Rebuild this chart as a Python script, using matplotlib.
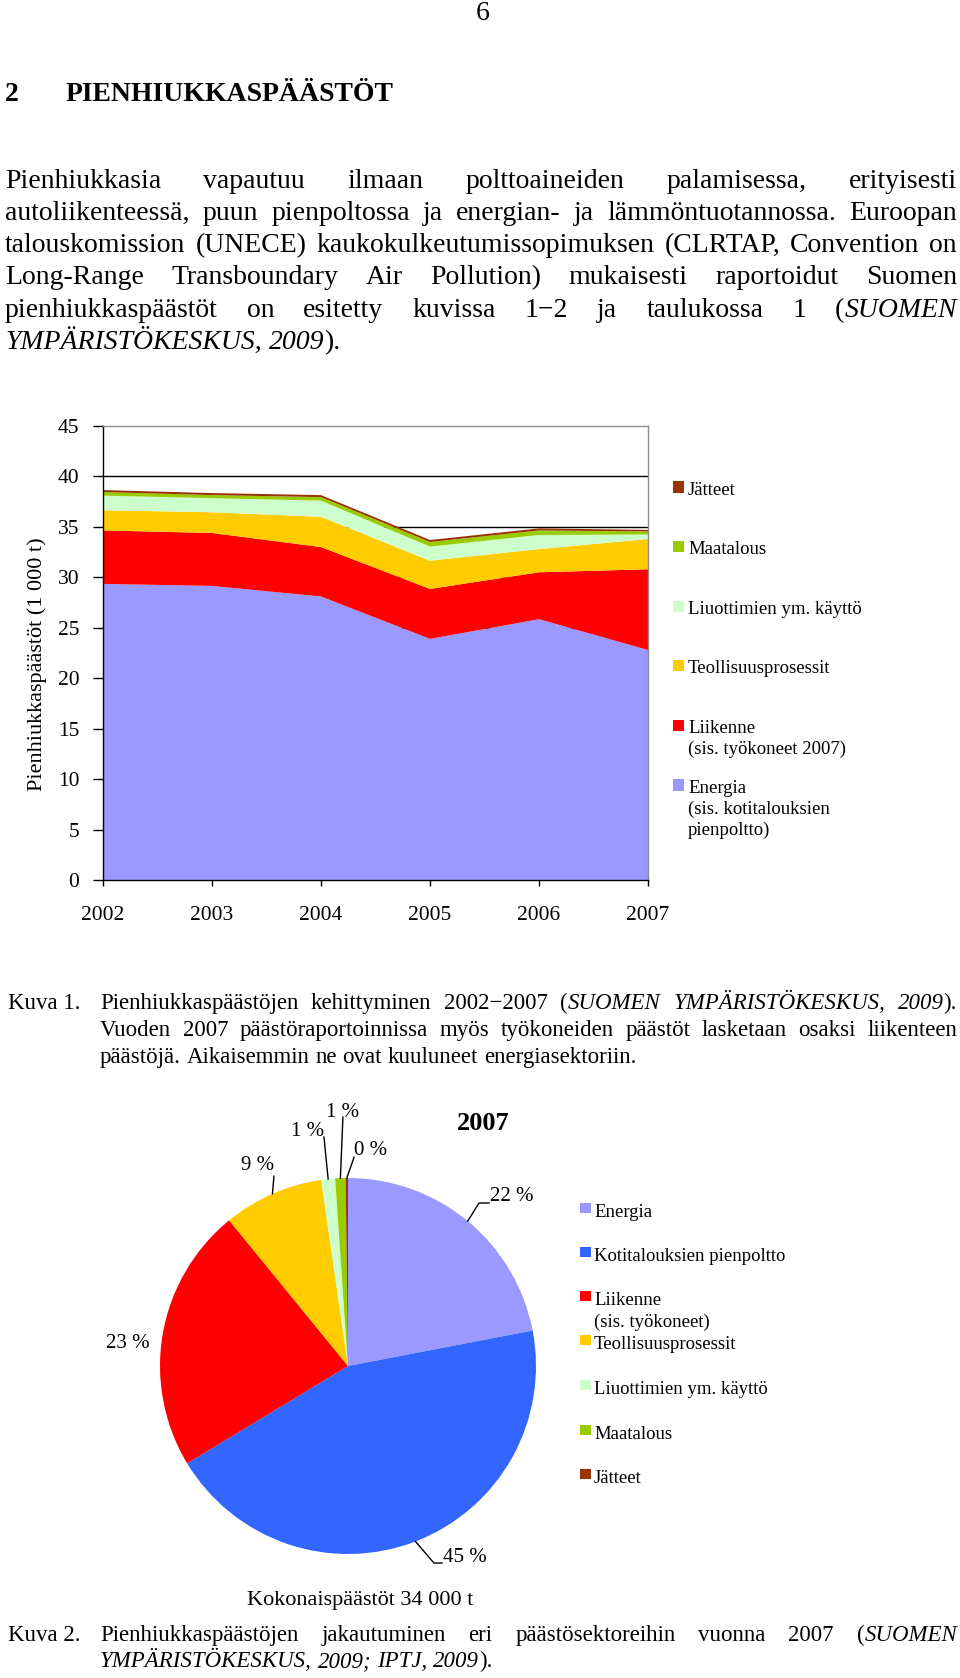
import matplotlib
matplotlib.use("Agg")
import matplotlib.pyplot as plt
from matplotlib.patches import Rectangle
import numpy as np

plt.rcParams['font.family'] = ['Liberation Serif', 'DejaVu Serif']

# ---------------- data ----------------
years = [2002, 2003, 2004, 2005, 2006, 2007]
energia = [29.35, 29.15, 28.1, 23.9, 25.85, 22.8]
liikenne = [5.3, 5.25, 4.9, 4.95, 4.65, 8.0]
teollisuus = [2.0, 2.05, 3.0, 2.8, 2.3, 3.0]
liuottimet = [1.45, 1.4, 1.6, 1.4, 1.4, 0.45]
maatalous = [0.35, 0.3, 0.35, 0.45, 0.45, 0.3]
jatteet = [0.2, 0.2, 0.2, 0.2, 0.2, 0.15]
area_colors = ['#9999FF', '#FF0000', '#FFCC00', '#CCFFCC', '#99CC00', '#993300']
area_legend = ["Energia\n(sis. kotitalouksien\npienpoltto)",
               "Liikenne\n(sis. työkoneet 2007)",
               "Teollisuusprosessit",
               "Liuottimien ym. käyttö",
               "Maatalous",
               "Jätteet"]

pie_labels = ["Energia", "Kotitalouksien pienpoltto", "Liikenne\n(sis. työkoneet)",
              "Teollisuusprosessit", "Liuottimien ym. käyttö", "Maatalous", "Jätteet"]
pie_values = [22.2, 44.8, 23.0, 8.7, 1.2, 0.9, 0.2]
pie_colors = ['#9999FF', '#3366FF', '#FF0000', '#FFCC00', '#CCFFCC', '#99CC00', '#993300']

body_lines = [
    ("Pienhiukkasia vapautuu ilmaan polttoaineiden palamisessa, erityisesti", True),
    ("autoliikenteessä, puun pienpoltossa ja energian- ja lämmöntuotannossa. Euroopan", True),
    ("talouskomission (UNECE) kaukokulkeutumissopimuksen (CLRTAP, Convention on", True),
    ("Long-Range Transboundary Air Pollution) mukaisesti raportoidut Suomen", True),
    ("pienhiukkaspäästöt on esitetty kuvissa 1−2 ja taulukossa 1 (*SUOMEN*", True),
    ("*YMPÄRISTÖKESKUS, 2009*).", False),
]
caption1 = [
    ("Pienhiukkaspäästöjen kehittyminen 2002−2007 (*SUOMEN YMPÄRISTÖKESKUS, 2009*).", True),
    ("Vuoden 2007 päästöraportoinnissa myös työkoneiden päästöt lasketaan osaksi liikenteen", True),
    ("päästöjä. Aikaisemmin ne ovat kuuluneet energiasektoriin.", False),
]
caption2 = [
    ("Pienhiukkaspäästöjen jakautuminen eri päästösektoreihin vuonna 2007 (*SUOMEN*", True),
    ("*YMPÄRISTÖKESKUS, 2009; IPTJ, 2009*).", False),
]

# ---------------- figure ----------------
W, H = 960, 1678
fig = plt.figure(figsize=(W / 100, H / 100), dpi=100)
renderer = fig.canvas.get_renderer()


def fx(x):
    return x / W


def fy(y):
    return 1 - y / H


def put(x, yc, s, size, ha='left', **kw):
    base = yc + 0.3 * size * 100 / 72
    return fig.text(fx(x), fy(base), s, fontsize=size, ha=ha, va='baseline', **kw)


def parse(line):
    words = []
    italic = False
    for w in line.split(' '):
        pieces = []
        for i, p in enumerate(w.split('*')):
            if i > 0:
                italic = not italic
            if p:
                pieces.append((p, italic))
        words.append(pieces)
    return words


def twidth(s, size, italic):
    t = fig.text(0, 0, s, fontsize=size, style='italic' if italic else 'normal')
    w = t.get_window_extent(renderer).width
    t.remove()
    return w


def draw_line(line, yc, x0, x1, size, justify):
    words = parse(line)
    widths = [[twidth(p, size, it) for p, it in w] for w in words]
    total = sum(sum(ws) for ws in widths)
    if justify and len(words) > 1:
        gap = (x1 - x0 - total) / (len(words) - 1)
    else:
        gap = twidth("n n", size, False) - twidth("nn", size, False)
    x = x0
    for w, ws in zip(words, widths):
        for (p, it), pw in zip(w, ws):
            put(x, yc, p, size, style='italic' if it else 'normal')
            x += pw
        x += gap


def legend_patch(x, yc, col, w=11, h=11):
    fig.add_artist(Rectangle((fx(x), fy(yc + h / 2)), w / W, h / H,
                             transform=fig.transFigure, facecolor=col, edgecolor='none'))


# page number and heading
put(483, 12, "6", 20, ha='center')
put(5, 93, "2", 20, weight='bold')
put(66, 93, "PIENHIUKKASPÄÄSTÖT", 20, weight='bold')

body_y = [180, 212, 244, 276, 309, 341]
for (ln, just), y in zip(body_lines, body_y):
    draw_line(ln, y, 5, 957, 20, just)

# ---------------- chart 1: stacked area ----------------
ax = fig.add_axes([fx(103), fy(880), (648 - 103) / W, (880 - 426) / H])
ax.stackplot(years, energia, liikenne, teollisuus, liuottimet, maatalous, jatteet,
             colors=area_colors, linewidth=0)
ax.set_xlim(2002, 2007)
ax.set_ylim(0, 45)
ax.set_yticks(range(0, 46, 5))
ax.set_xticks(years)
ax.yaxis.grid(True, color='black', lw=1.0)
ax.set_axisbelow(True)
gl = ax.yaxis.get_gridlines()
gl[0].set_visible(False)
gl[-1].set_visible(False)
for s in ['left', 'bottom']:
    ax.spines[s].set_color('black')
    ax.spines[s].set_linewidth(1.0)
for s in ['top', 'right']:
    ax.spines[s].set_color('#8c8c8c')
    ax.spines[s].set_linewidth(1.0)
ax.tick_params(axis='y', length=7, width=1, pad=10, labelsize=15.5, direction='out')
ax.tick_params(axis='x', length=4, width=1, pad=15, labelsize=15.5, direction='out')
fig.text(fx(37), fy(664), "Pienhiukkaspäästöt (1 000 t)", rotation=90,
         ha='center', va='center', fontsize=16)

# legend of chart 1 (top entry = top layer)
leg_y0 = 489
for i, (lab, col) in enumerate(zip(area_legend[::-1], area_colors[::-1])):
    y = leg_y0 + i * 59.6
    legend_patch(673, y - 2, col)
    for k, part in enumerate(lab.split('\n')):
        put(688, y + k * 21, part, 13.5)

# captions
put(8, 1002, "Kuva 1.", 16.5)
for (ln, just), y in zip(caption1, [1002, 1029, 1056]):
    draw_line(ln, y, 100, 957, 16.5, just)

# ---------------- chart 2: pie ----------------
cx, cy, r = 348, 1366, 188
pax = fig.add_axes([fx(cx - r), fy(cy + r), 2 * r / W, 2 * r / H])
wedges, _ = pax.pie(pie_values, colors=pie_colors, startangle=90, counterclock=False,
                    wedgeprops=dict(linewidth=0))
pax.set_xlim(-1, 1)
pax.set_ylim(-1, 1)
pax.axis('off')

# label layout: (text position, text ha, leader-line elbow points)
label_layout = [
    ((0.755, 0.899), 'left', [(0.697, 0.867), (0.75, 0.867)]),
    ((0.505, -1.02), 'left', [(0.457, -1.048), (0.50, -1.048)]),
    ((-1.17, 0.122), 'center', []),
    ((-0.479, 1.069), 'center', [(-0.394, 1.01)]),
    ((-0.213, 1.25), 'center', [(-0.128, 1.218)]),
    ((-0.027, 1.351), 'center', [(-0.027, 1.324)]),
    ((0.122, 1.144), 'center', [(0.032, 1.11)]),
]
for w, v, (tpos, ha, pts) in zip(wedges, pie_values, label_layout):
    if pts:
        mid = np.deg2rad((w.theta1 + w.theta2) / 2)
        xs = [np.cos(mid)] + [p[0] for p in pts]
        ys = [np.sin(mid)] + [p[1] for p in pts]
        pax.plot(xs, ys, color='black', lw=1, clip_on=False)
    pax.text(tpos[0], tpos[1], f"{round(v)} %", ha=ha, va='center', fontsize=15,
             clip_on=False)

put(483, 1122, "2007", 19, ha='center', weight='bold')
put(360, 1598, "Kokonaispäästöt 34 000 t", 16, ha='center')

# pie legend
pie_leg_y = [1211, 1255, 1299, 1343, 1388, 1433, 1477]
for lab, col, y in zip(pie_labels, pie_colors, pie_leg_y):
    legend_patch(580, y - 3, col, w=11, h=10)
    for k, part in enumerate(lab.split('\n')):
        put(594, y + k * 22, part, 13.5)

put(8, 1634, "Kuva 2.", 16.5)
for (ln, just), y in zip(caption2, [1634, 1660]):
    draw_line(ln, y, 100, 957, 16.5, just)

fig.savefig("out.png", dpi=100, facecolor='white')
